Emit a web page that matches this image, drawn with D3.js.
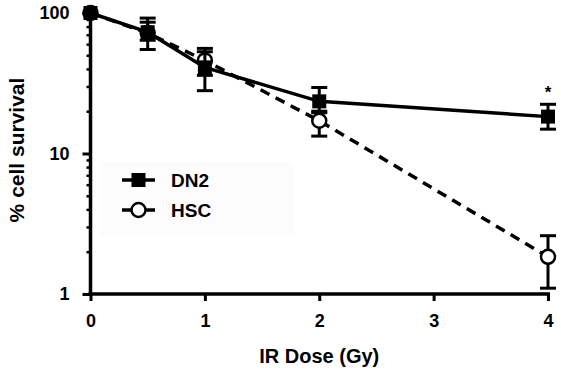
<!DOCTYPE html>
<html><head><meta charset="utf-8">
<script src="https://cdn.jsdelivr.net/npm/d3@7"></script>
<style>body{margin:0;background:#fff}svg{display:block}text{font-family:"Liberation Sans",Arial,sans-serif;font-weight:bold}</style>
</head><body><svg id="c" width="561" height="371"></svg>
<script>
const doses = [0, 0.5, 1, 2, 4];
const dn2 = [100, 73, 41, 23.5, 18.3];
const dn2Lo = [100, 55, 28, 19.5, 14.9];
const dn2Hi = [100, 92, 56, 29.5, 22.4];
const hsc = [100, 72, 46, 17.1, 1.84];
const hscLo = [100, 64, 36, 13.3, 1.1];
const hscHi = [100, 86, 53, 20, 2.6];
const xTicks = [0, 1, 2, 3, 4];
const yTicks = [1, 10, 100];

const svg = d3.select("#c");
const x = d3.scaleLinear().domain([0, 4]).range([90.5, 548]);
const y = d3.scaleLog().domain([1, 100]).range([294, 13]);

// legend background (faint)
svg.append("rect").attr("x", 100).attr("y", 162).attr("width", 193).attr("height", 73).attr("fill", "#fcfcfc");

// axes
const xAxis = d3.axisBottom(x).tickValues(xTicks).tickFormat(d3.format("d")).tickSize(7).tickPadding(13);
const gx = svg.append("g").attr("transform", "translate(0,294)").call(xAxis);
gx.select(".domain").attr("stroke-width", 3.5).attr("d", `M${x(0)-2},0H${x(4)+2}`);
gx.selectAll(".tick line").attr("stroke-width", 3);
gx.selectAll("text").attr("font-size", 18).attr("fill", "#000");

const minor = [];
for (let dec of [1, 10]) for (let m = 2; m <= 9; m++) minor.push(dec * m);
const gyMinor = svg.append("g").attr("transform", `translate(${x(0)},0)`)
  .call(d3.axisLeft(y).tickValues(minor).tickSize(4).tickFormat(""));
gyMinor.select(".domain").remove();
gyMinor.selectAll(".tick line").attr("stroke-width", 2.5);

const gy = svg.append("g").attr("transform", `translate(${x(0)},0)`)
  .call(d3.axisLeft(y).tickValues(yTicks).tickFormat(d3.format("d")).tickSize(8).tickPadding(13));
gy.select(".domain").attr("stroke-width", 3.5).attr("d", `M0,${y(1)+2}V${y(100)}`);
gy.selectAll(".tick line").attr("stroke-width", 3);
gy.selectAll("text").attr("font-size", 18).attr("fill", "#000");

// axis titles
svg.append("text").attr("x", x(2)).attr("y", 363).attr("text-anchor", "middle").attr("font-size", 20).text("IR Dose (Gy)");
svg.append("text").attr("transform", `translate(24,150) rotate(-90)`).attr("text-anchor", "middle").attr("font-size", 21).text("% cell survival");

const line = d3.line().x(d => x(d[0])).y(d => y(d[1]));
const hscPts = doses.map((d, i) => [d, hsc[i]]);
const dn2Pts = doses.map((d, i) => [d, dn2[i]]);

function errbars(vals, lo, hi) {
  const g = svg.append("g").attr("stroke", "#000").attr("stroke-width", 3);
  doses.forEach((d, i) => {
    if (d === 0) return;
    const cx = x(d);
    g.append("line").attr("x1", cx).attr("x2", cx).attr("y1", y(lo[i])).attr("y2", y(hi[i]));
    g.append("line").attr("x1", cx - 8).attr("x2", cx + 8).attr("y1", y(lo[i])).attr("y2", y(lo[i]));
    g.append("line").attr("x1", cx - 8).attr("x2", cx + 8).attr("y1", y(hi[i])).attr("y2", y(hi[i]));
  });
}

// HSC
svg.append("path").datum(hscPts).attr("d", line).attr("fill", "none").attr("stroke", "#000")
  .attr("stroke-width", 3.5).attr("stroke-dasharray", "10,7");
errbars(hsc, hscLo, hscHi);
svg.append("g").selectAll("circle").data(hscPts).join("circle")
  .attr("cx", d => x(d[0])).attr("cy", d => y(d[1])).attr("r", 7)
  .attr("fill", "#fff").attr("stroke", "#000").attr("stroke-width", 2.5);

// DN2
svg.append("path").datum(dn2Pts).attr("d", line).attr("fill", "none").attr("stroke", "#000").attr("stroke-width", 3.5);
errbars(dn2, dn2Lo, dn2Hi);
svg.append("g").selectAll("rect").data(dn2Pts).join("rect")
  .attr("x", d => x(d[0]) - 7).attr("y", d => y(d[1]) - 7).attr("width", 14).attr("height", 14).attr("fill", "#000");

// asterisk
svg.append("text").attr("x", x(4)).attr("y", 98).attr("text-anchor", "middle").attr("font-size", 17).attr("font-weight", "normal").text("*");

// legend
const leg = [{name: "DN2", y: 180, sq: true}, {name: "HSC", y: 210, sq: false}];
leg.forEach(l => {
  svg.append("line").attr("x1", 122).attr("x2", 155).attr("y1", l.y).attr("y2", l.y).attr("stroke", "#000").attr("stroke-width", 3.5);
  if (l.sq) svg.append("rect").attr("x", 131.5).attr("y", l.y - 7).attr("width", 14).attr("height", 14).attr("fill", "#000");
  else svg.append("circle").attr("cx", 138.5).attr("cy", l.y).attr("r", 7).attr("fill", "#fff").attr("stroke", "#000").attr("stroke-width", 2.5);
  svg.append("text").attr("x", 171).attr("y", l.y + 6.5).attr("font-size", 19).text(l.name);
});
</script></body></html>
